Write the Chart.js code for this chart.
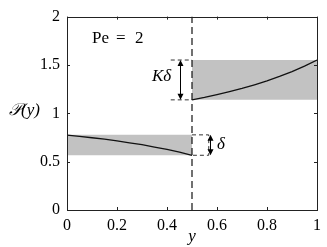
<!DOCTYPE html>
<html>
<head>
<meta charset="utf-8">
<script src="https://cdn.jsdelivr.net/npm/chart.js@4"></script>
<style>
  html, body { margin: 0; padding: 0; background: #fff; }
  #wrap { width: 327px; height: 247px; }
  .prechargement { position: absolute; left: 0; top: 0; visibility: hidden; font-family: 'Liberation Serif'; font-size: 16px; }
</style>
</head>
<body>
<div class="prechargement">0.2 Pe = 2 <i>Kδ y</i></div>
<div id="wrap"><canvas id="chart" width="327" height="247"></canvas></div>
<script>
// données (Pe = 2)
const yLeft = [0, 0.05, 0.1, 0.15, 0.2, 0.25, 0.3, 0.35, 0.4, 0.45, 0.5];
const pLeft = [0.774, 0.761, 0.747, 0.732, 0.715, 0.695, 0.675, 0.651, 0.626, 0.598, 0.566];
const yRight = [0.5, 0.55, 0.6, 0.65, 0.7, 0.75, 0.8, 0.85, 0.9, 0.95, 1];
const pRight = [1.139, 1.164, 1.192, 1.223, 1.257, 1.295, 1.336, 1.382, 1.432, 1.488, 1.551];

// bandes grises [bas, haut]
const bandLeft = [0.566, 0.777];
const bandRight = [1.139, 1.551];
const interfaceY = 0.5;

const xTicks = [0, 0.2, 0.4, 0.6, 0.8, 1];
const yTicks = [0, 0.5, 1, 1.5, 2];

const serif = "'Liberation Serif', 'DejaVu Serif', serif";
const gris = '#c2c2c2';
const trait = '#222';

// zone de tracé visée (px)
const zone = { left: 67, right: 319, top: 11, bottom: 210 };

function pts(xs, ys) {
  return xs.map((x, i) => ({ x: x, y: ys[i] }));
}

// ticks vers l'intérieur, textes, flèches
const decor = {
  id: 'decor',
  afterDatasetsDraw(chart) {
    const ctx = chart.ctx;
    const xs = chart.scales.x, ys = chart.scales.y;
    const a = chart.chartArea;
    const X = v => xs.getPixelForValue(v);
    const Y = v => ys.getPixelForValue(v);

    ctx.save();
    ctx.strokeStyle = trait;
    ctx.lineWidth = 1;
    ctx.beginPath();
    xTicks.forEach(t => {
      const px = Math.round(X(t)) + 0.5;
      ctx.moveTo(px, a.bottom); ctx.lineTo(px, a.bottom - 3);
      ctx.moveTo(px, a.top); ctx.lineTo(px, a.top + 3);
    });
    yTicks.forEach(t => {
      const py = Math.round(Y(t)) + 0.5;
      ctx.moveTo(a.left, py); ctx.lineTo(a.left + 3, py);
      ctx.moveTo(a.right, py); ctx.lineTo(a.right - 3, py);
    });
    ctx.stroke();

    // cadre
    ctx.strokeRect(Math.round(a.left) + 0.5, Math.round(a.top) + 0.5,
      Math.round(a.right - a.left), Math.round(a.bottom - a.top));

    // flèches doubles
    function doubleArrow(xv, y0, y1) {
      const px = Math.round(X(xv)) + 0.5, pa = Y(y0), pb = Y(y1);
      ctx.strokeStyle = '#000';
      ctx.fillStyle = '#000';
      ctx.beginPath();
      ctx.moveTo(px, pa - 3); ctx.lineTo(px, pb + 3);
      ctx.stroke();
      ctx.beginPath();
      ctx.moveTo(px, pa); ctx.lineTo(px - 3, pa - 6); ctx.lineTo(px + 3, pa - 6); ctx.closePath();
      ctx.moveTo(px, pb); ctx.lineTo(px - 3, pb + 6); ctx.lineTo(px + 3, pb + 6); ctx.closePath();
      ctx.fill();
    }
    doubleArrow(0.452, bandRight[0], bandRight[1]);
    doubleArrow(0.571, bandLeft[0], bandLeft[1]);

    ctx.fillStyle = '#000';
    ctx.textBaseline = 'middle';
    ctx.textAlign = 'left';
    ctx.font = '17px ' + serif;
    // espacement façon LaTeX
    ctx.fillText('Pe', 92, 39);
    ctx.fillText('=', 116, 39);
    ctx.fillText('2', 135, 39);
    ctx.font = 'italic 17px ' + serif;
    ctx.fillText('Kδ', 152, 77);
    ctx.fillText('δ', 217, 145);
    ctx.fillText('𝒫(y)', 9, 111);
    ctx.textAlign = 'center';
    ctx.fillText('y', X(0.5), 237);
    ctx.restore();
  }
};

const dash = [4, 3];

const chart = new Chart(document.getElementById('chart'), {
  type: 'scatter',
  data: {
    datasets: [
      { data: pts(yLeft, pLeft), showLine: true, borderColor: '#111', borderWidth: 1.3, pointRadius: 0, fill: false },
      { data: pts(yRight, pRight), showLine: true, borderColor: '#111', borderWidth: 1.3, pointRadius: 0, fill: false },
      { data: [{ x: interfaceY, y: 0 }, { x: interfaceY, y: 2 }], showLine: true, borderColor: '#111', borderWidth: 1.2, borderDash: [7, 4], pointRadius: 0 },
      // pointillés autour des sauts
      { data: [{ x: 0.5, y: bandLeft[1] }, { x: 0.567, y: bandLeft[1] }, { x: 0.567, y: bandLeft[0] }, { x: 0.5, y: bandLeft[0] }], showLine: true, borderColor: '#333', borderWidth: 1, borderDash: dash, pointRadius: 0 },
      { data: [{ x: 0.415, y: bandRight[1] }, { x: 0.5, y: bandRight[1] }], showLine: true, borderColor: '#333', borderWidth: 1, borderDash: dash, pointRadius: 0 },
      { data: [{ x: 0.415, y: bandRight[0] }, { x: 0.5, y: bandRight[0] }], showLine: true, borderColor: '#333', borderWidth: 1, borderDash: dash, pointRadius: 0 },
      // bandes grises
      { data: [{ x: 0, y: bandLeft[1] }, { x: 0.5, y: bandLeft[1] }], showLine: true, borderWidth: 0, borderColor: 'rgba(0,0,0,0)', pointRadius: 0, fill: { value: bandLeft[0] }, backgroundColor: gris },
      { data: [{ x: 0.5, y: bandRight[1] }, { x: 1, y: bandRight[1] }], showLine: true, borderWidth: 0, borderColor: 'rgba(0,0,0,0)', pointRadius: 0, fill: { value: bandRight[0] }, backgroundColor: gris }
    ]
  },
  options: {
    responsive: false,
    animation: false,
    layout: { padding: { top: 11, right: 8, left: 0, bottom: 0 } },
    plugins: { legend: { display: false }, tooltip: { enabled: false } },
    scales: {
      x: {
        type: 'linear', min: 0, max: 1,
        afterBuildTicks: s => { s.ticks = xTicks.map(v => ({ value: v })); },
        afterFit: s => { s.height = 37; },
        grid: { display: false, drawTicks: false },
        border: { display: false },
        ticks: { color: '#000', padding: 6, maxRotation: 0, font: { family: serif, size: 16 }, callback: v => String(v) }
      },
      y: {
        type: 'linear', min: 0, max: 2,
        afterBuildTicks: s => { s.ticks = yTicks.map(v => ({ value: v })); },
        afterFit: s => { s.width = 67; },
        grid: { display: false, drawTicks: false },
        border: { display: false },
        ticks: { color: '#000', padding: 7, font: { family: serif, size: 16 }, callback: v => String(v) }
      }
    }
  },
  plugins: [decor]
});

// recalage de la zone de tracé
function recaler() {
  const pad = chart.options.layout.padding;
  pad.right += chart.chartArea.right - zone.right;
  pad.left += zone.left - chart.chartArea.left;
  pad.top += zone.top - chart.chartArea.top;
  pad.bottom += chart.chartArea.bottom - zone.bottom;
  chart.update();
}
recaler();

// redessin une fois la police chargée
document.fonts.load("16px 'Liberation Serif'").then(() => {
  chart.update();
  recaler();
});
</script>
</body>
</html>
